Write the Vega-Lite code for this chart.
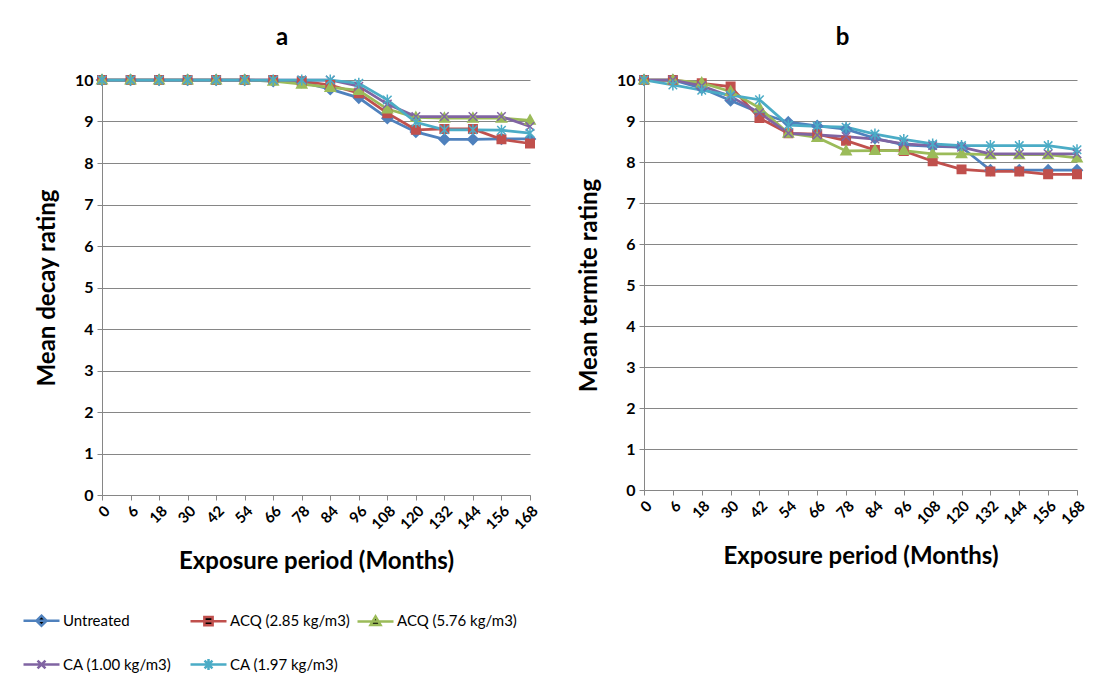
{
  "$schema": "https://vega.github.io/schema/vega-lite/v6.json",
  "background": "white",
  "padding": {"left": 22, "top": 26, "right": 0, "bottom": 0},
  "autosize": {"type": "pad"},
  "config": {
    "font": "Lato",
    "view": {"stroke": null},
    "axis": {"labelColor": "#000", "titleColor": "#000", "domainColor": "#868686", "tickColor": "#868686", "gridColor": "#868686", "tickSize": 5, "labelFontWeight": "bold", "titleFontWeight": "bold", "titleFontSize": 24, "labelFontSize": 16},
    "legend": {"title": null, "orient": "none", "legendX": -80, "legendY": 521, "columns": 3, "direction": "horizontal", "gridAlign": "all", "columnPadding": 2, "rowPadding": 14, "padding": 0, "labelFontSize": 15, "labelColor": "#000", "labelOffset": 2, "symbolSize": 1296, "symbolStrokeWidth": 2.5, "symbolOpacity": 1},
    "title": {"fontSize": 24, "fontWeight": "bold", "color": "#000"}
  },
  "datasets": {
    "d": [
      {"p":"a","s":"Untreated","m":0,"v":10},{"p":"a","s":"Untreated","m":6,"v":10},{"p":"a","s":"Untreated","m":18,"v":10},{"p":"a","s":"Untreated","m":30,"v":10},{"p":"a","s":"Untreated","m":42,"v":10},{"p":"a","s":"Untreated","m":54,"v":10},{"p":"a","s":"Untreated","m":66,"v":9.97},{"p":"a","s":"Untreated","m":78,"v":9.95},{"p":"a","s":"Untreated","m":84,"v":9.78},{"p":"a","s":"Untreated","m":96,"v":9.57},{"p":"a","s":"Untreated","m":108,"v":9.08},{"p":"a","s":"Untreated","m":120,"v":8.75},{"p":"a","s":"Untreated","m":132,"v":8.57},{"p":"a","s":"Untreated","m":144,"v":8.57},{"p":"a","s":"Untreated","m":156,"v":8.58},{"p":"a","s":"Untreated","m":168,"v":8.58},
      {"p":"a","s":"ACQ (2.85 kg/m3)","m":0,"v":10},{"p":"a","s":"ACQ (2.85 kg/m3)","m":6,"v":10},{"p":"a","s":"ACQ (2.85 kg/m3)","m":18,"v":10},{"p":"a","s":"ACQ (2.85 kg/m3)","m":30,"v":10},{"p":"a","s":"ACQ (2.85 kg/m3)","m":42,"v":10},{"p":"a","s":"ACQ (2.85 kg/m3)","m":54,"v":10},{"p":"a","s":"ACQ (2.85 kg/m3)","m":66,"v":10},{"p":"a","s":"ACQ (2.85 kg/m3)","m":78,"v":9.97},{"p":"a","s":"ACQ (2.85 kg/m3)","m":84,"v":9.88},{"p":"a","s":"ACQ (2.85 kg/m3)","m":96,"v":9.68},{"p":"a","s":"ACQ (2.85 kg/m3)","m":108,"v":9.2},{"p":"a","s":"ACQ (2.85 kg/m3)","m":120,"v":8.8},{"p":"a","s":"ACQ (2.85 kg/m3)","m":132,"v":8.82},{"p":"a","s":"ACQ (2.85 kg/m3)","m":144,"v":8.82},{"p":"a","s":"ACQ (2.85 kg/m3)","m":156,"v":8.57},{"p":"a","s":"ACQ (2.85 kg/m3)","m":168,"v":8.47},
      {"p":"a","s":"ACQ (5.76 kg/m3)","m":0,"v":10},{"p":"a","s":"ACQ (5.76 kg/m3)","m":6,"v":10},{"p":"a","s":"ACQ (5.76 kg/m3)","m":18,"v":10},{"p":"a","s":"ACQ (5.76 kg/m3)","m":30,"v":10},{"p":"a","s":"ACQ (5.76 kg/m3)","m":42,"v":10},{"p":"a","s":"ACQ (5.76 kg/m3)","m":54,"v":10},{"p":"a","s":"ACQ (5.76 kg/m3)","m":66,"v":9.97},{"p":"a","s":"ACQ (5.76 kg/m3)","m":78,"v":9.9},{"p":"a","s":"ACQ (5.76 kg/m3)","m":84,"v":9.82},{"p":"a","s":"ACQ (5.76 kg/m3)","m":96,"v":9.75},{"p":"a","s":"ACQ (5.76 kg/m3)","m":108,"v":9.3},{"p":"a","s":"ACQ (5.76 kg/m3)","m":120,"v":9.1},{"p":"a","s":"ACQ (5.76 kg/m3)","m":132,"v":9.08},{"p":"a","s":"ACQ (5.76 kg/m3)","m":144,"v":9.08},{"p":"a","s":"ACQ (5.76 kg/m3)","m":156,"v":9.08},{"p":"a","s":"ACQ (5.76 kg/m3)","m":168,"v":9.03},
      {"p":"a","s":"CA (1.00 kg/m3)","m":0,"v":10},{"p":"a","s":"CA (1.00 kg/m3)","m":6,"v":10},{"p":"a","s":"CA (1.00 kg/m3)","m":18,"v":10},{"p":"a","s":"CA (1.00 kg/m3)","m":30,"v":10},{"p":"a","s":"CA (1.00 kg/m3)","m":42,"v":10},{"p":"a","s":"CA (1.00 kg/m3)","m":54,"v":10},{"p":"a","s":"CA (1.00 kg/m3)","m":66,"v":10},{"p":"a","s":"CA (1.00 kg/m3)","m":78,"v":10},{"p":"a","s":"CA (1.00 kg/m3)","m":84,"v":10},{"p":"a","s":"CA (1.00 kg/m3)","m":96,"v":9.85},{"p":"a","s":"CA (1.00 kg/m3)","m":108,"v":9.42},{"p":"a","s":"CA (1.00 kg/m3)","m":120,"v":9.12},{"p":"a","s":"CA (1.00 kg/m3)","m":132,"v":9.12},{"p":"a","s":"CA (1.00 kg/m3)","m":144,"v":9.12},{"p":"a","s":"CA (1.00 kg/m3)","m":156,"v":9.12},{"p":"a","s":"CA (1.00 kg/m3)","m":168,"v":8.88},
      {"p":"a","s":"CA (1.97 kg/m3)","m":0,"v":10},{"p":"a","s":"CA (1.97 kg/m3)","m":6,"v":10},{"p":"a","s":"CA (1.97 kg/m3)","m":18,"v":10},{"p":"a","s":"CA (1.97 kg/m3)","m":30,"v":10},{"p":"a","s":"CA (1.97 kg/m3)","m":42,"v":10},{"p":"a","s":"CA (1.97 kg/m3)","m":54,"v":10},{"p":"a","s":"CA (1.97 kg/m3)","m":66,"v":10},{"p":"a","s":"CA (1.97 kg/m3)","m":78,"v":10},{"p":"a","s":"CA (1.97 kg/m3)","m":84,"v":10},{"p":"a","s":"CA (1.97 kg/m3)","m":96,"v":9.92},{"p":"a","s":"CA (1.97 kg/m3)","m":108,"v":9.52},{"p":"a","s":"CA (1.97 kg/m3)","m":120,"v":8.98},{"p":"a","s":"CA (1.97 kg/m3)","m":132,"v":8.8},{"p":"a","s":"CA (1.97 kg/m3)","m":144,"v":8.8},{"p":"a","s":"CA (1.97 kg/m3)","m":156,"v":8.79},{"p":"a","s":"CA (1.97 kg/m3)","m":168,"v":8.72},
      {"p":"b","s":"Untreated","m":0,"v":10},{"p":"b","s":"Untreated","m":6,"v":10},{"p":"b","s":"Untreated","m":18,"v":9.8},{"p":"b","s":"Untreated","m":30,"v":9.5},{"p":"b","s":"Untreated","m":42,"v":9.2},{"p":"b","s":"Untreated","m":54,"v":8.97},{"p":"b","s":"Untreated","m":66,"v":8.88},{"p":"b","s":"Untreated","m":78,"v":8.8},{"p":"b","s":"Untreated","m":84,"v":8.58},{"p":"b","s":"Untreated","m":96,"v":8.42},{"p":"b","s":"Untreated","m":108,"v":8.38},{"p":"b","s":"Untreated","m":120,"v":8.36},{"p":"b","s":"Untreated","m":132,"v":7.8},{"p":"b","s":"Untreated","m":144,"v":7.8},{"p":"b","s":"Untreated","m":156,"v":7.8},{"p":"b","s":"Untreated","m":168,"v":7.8},
      {"p":"b","s":"ACQ (2.85 kg/m3)","m":0,"v":10},{"p":"b","s":"ACQ (2.85 kg/m3)","m":6,"v":10},{"p":"b","s":"ACQ (2.85 kg/m3)","m":18,"v":9.92},{"p":"b","s":"ACQ (2.85 kg/m3)","m":30,"v":9.84},{"p":"b","s":"ACQ (2.85 kg/m3)","m":42,"v":9.07},{"p":"b","s":"ACQ (2.85 kg/m3)","m":54,"v":8.7},{"p":"b","s":"ACQ (2.85 kg/m3)","m":66,"v":8.68},{"p":"b","s":"ACQ (2.85 kg/m3)","m":78,"v":8.52},{"p":"b","s":"ACQ (2.85 kg/m3)","m":84,"v":8.29},{"p":"b","s":"ACQ (2.85 kg/m3)","m":96,"v":8.27},{"p":"b","s":"ACQ (2.85 kg/m3)","m":108,"v":8.02},{"p":"b","s":"ACQ (2.85 kg/m3)","m":120,"v":7.82},{"p":"b","s":"ACQ (2.85 kg/m3)","m":132,"v":7.77},{"p":"b","s":"ACQ (2.85 kg/m3)","m":144,"v":7.77},{"p":"b","s":"ACQ (2.85 kg/m3)","m":156,"v":7.7},{"p":"b","s":"ACQ (2.85 kg/m3)","m":168,"v":7.7},
      {"p":"b","s":"ACQ (5.76 kg/m3)","m":0,"v":10},{"p":"b","s":"ACQ (5.76 kg/m3)","m":6,"v":10},{"p":"b","s":"ACQ (5.76 kg/m3)","m":18,"v":9.93},{"p":"b","s":"ACQ (5.76 kg/m3)","m":30,"v":9.72},{"p":"b","s":"ACQ (5.76 kg/m3)","m":42,"v":9.32},{"p":"b","s":"ACQ (5.76 kg/m3)","m":54,"v":8.7},{"p":"b","s":"ACQ (5.76 kg/m3)","m":66,"v":8.6},{"p":"b","s":"ACQ (5.76 kg/m3)","m":78,"v":8.27},{"p":"b","s":"ACQ (5.76 kg/m3)","m":84,"v":8.28},{"p":"b","s":"ACQ (5.76 kg/m3)","m":96,"v":8.28},{"p":"b","s":"ACQ (5.76 kg/m3)","m":108,"v":8.2},{"p":"b","s":"ACQ (5.76 kg/m3)","m":120,"v":8.2},{"p":"b","s":"ACQ (5.76 kg/m3)","m":132,"v":8.18},{"p":"b","s":"ACQ (5.76 kg/m3)","m":144,"v":8.18},{"p":"b","s":"ACQ (5.76 kg/m3)","m":156,"v":8.18},{"p":"b","s":"ACQ (5.76 kg/m3)","m":168,"v":8.1},
      {"p":"b","s":"CA (1.00 kg/m3)","m":0,"v":10},{"p":"b","s":"CA (1.00 kg/m3)","m":6,"v":10},{"p":"b","s":"CA (1.00 kg/m3)","m":18,"v":9.86},{"p":"b","s":"CA (1.00 kg/m3)","m":30,"v":9.6},{"p":"b","s":"CA (1.00 kg/m3)","m":42,"v":9.2},{"p":"b","s":"CA (1.00 kg/m3)","m":54,"v":8.7},{"p":"b","s":"CA (1.00 kg/m3)","m":66,"v":8.66},{"p":"b","s":"CA (1.00 kg/m3)","m":78,"v":8.62},{"p":"b","s":"CA (1.00 kg/m3)","m":84,"v":8.56},{"p":"b","s":"CA (1.00 kg/m3)","m":96,"v":8.44},{"p":"b","s":"CA (1.00 kg/m3)","m":108,"v":8.4},{"p":"b","s":"CA (1.00 kg/m3)","m":120,"v":8.36},{"p":"b","s":"CA (1.00 kg/m3)","m":132,"v":8.2},{"p":"b","s":"CA (1.00 kg/m3)","m":144,"v":8.2},{"p":"b","s":"CA (1.00 kg/m3)","m":156,"v":8.2},{"p":"b","s":"CA (1.00 kg/m3)","m":168,"v":8.2},
      {"p":"b","s":"CA (1.97 kg/m3)","m":0,"v":10},{"p":"b","s":"CA (1.97 kg/m3)","m":6,"v":9.88},{"p":"b","s":"CA (1.97 kg/m3)","m":18,"v":9.75},{"p":"b","s":"CA (1.97 kg/m3)","m":30,"v":9.63},{"p":"b","s":"CA (1.97 kg/m3)","m":42,"v":9.52},{"p":"b","s":"CA (1.97 kg/m3)","m":54,"v":8.9},{"p":"b","s":"CA (1.97 kg/m3)","m":66,"v":8.87},{"p":"b","s":"CA (1.97 kg/m3)","m":78,"v":8.85},{"p":"b","s":"CA (1.97 kg/m3)","m":84,"v":8.68},{"p":"b","s":"CA (1.97 kg/m3)","m":96,"v":8.55},{"p":"b","s":"CA (1.97 kg/m3)","m":108,"v":8.44},{"p":"b","s":"CA (1.97 kg/m3)","m":120,"v":8.4},{"p":"b","s":"CA (1.97 kg/m3)","m":132,"v":8.4},{"p":"b","s":"CA (1.97 kg/m3)","m":144,"v":8.4},{"p":"b","s":"CA (1.97 kg/m3)","m":156,"v":8.4},{"p":"b","s":"CA (1.97 kg/m3)","m":168,"v":8.3}
    ]
  },
  "data": {"name": "d"},
  "spacing": 36,
  "resolve": {"scale": {"color": "independent", "shape": "independent", "stroke": "independent", "fill": "independent"}, "legend": {"color": "independent", "shape": "independent", "stroke": "independent", "fill": "independent"}},
  "hconcat": [
    {
      "width": 428,
      "height": 415,
      "title": {"text": "a", "offset": 21, "dx": -34},
      "transform": [{"filter": "datum.p === 'a'"}],
      "encoding": {
        "x": {"field": "m", "type": "ordinal", "scale": {"type": "point", "padding": 0}, "title": "Exposure period (Months)", "axis": {"labelAngle": -45, "labelFontSize": 15, "labelPadding": 3, "titlePadding": 17, "grid": false}},
        "y": {"field": "v", "type": "quantitative", "scale": {"domain": [0, 10], "nice": false}, "title": "Mean decay rating", "axis": {"values": [0,1,2,3,4,5,6,7,8,9,10], "grid": true, "labelPadding": 4, "titlePadding": 15}}
      },
      "resolve": {"scale": {"shape": "independent", "stroke": "independent"}, "legend": {"shape": "independent", "stroke": "independent"}},
      "layer": [
        {
          "mark": {"type": "line", "strokeWidth": 2.75},
          "encoding": {
            "color": {"field": "s", "type": "nominal", "legend": null, "scale": {"domain": ["Untreated", "ACQ (2.85 kg/m3)", "ACQ (5.76 kg/m3)", "CA (1.00 kg/m3)", "CA (1.97 kg/m3)"], "range": ["#4F81BD", "#C0504D", "#9BBB59", "#8064A2", "#4BACC6"]}}
          }
        },
        {
          "mark": {"type": "point", "filled": true, "size": 72, "opacity": 1, "strokeWidth": 1.5},
          "encoding": {
            "color": {"field": "s", "type": "nominal", "legend": null, "scale": {"domain": ["Untreated", "ACQ (2.85 kg/m3)", "ACQ (5.76 kg/m3)", "CA (1.00 kg/m3)", "CA (1.97 kg/m3)"], "range": ["#4F81BD", "#C0504D", "#9BBB59", "#8064A2", "#4BACC6"]}},
            "shape": {"field": "s", "type": "nominal", "legend": null, "scale": {"domain": ["Untreated", "ACQ (2.85 kg/m3)", "ACQ (5.76 kg/m3)", "CA (1.00 kg/m3)", "CA (1.97 kg/m3)"], "range": ["M0,-1.25L1.25,0L0,1.25L-1.25,0Z", "M-1,-1H1V1H-1Z", "M0,-1.25L1.2,0.9L-1.2,0.9Z", "M-1,-1L1,1M-1,1L1,-1", "M-1,-1L1,1M-1,1L1,-1M0,-1.3V1.3"]}},
            "stroke": {"field": "s", "type": "nominal", "legend": null, "scale": {"domain": ["Untreated", "ACQ (2.85 kg/m3)", "ACQ (5.76 kg/m3)", "CA (1.00 kg/m3)", "CA (1.97 kg/m3)"], "range": ["#4F81BD", "#C0504D", "#9BBB59", "#8064A2", "#4BACC6"]}}
          }
        },
        {
          "mark": {"type": "point", "filled": true, "opacity": 0},
          "encoding": {
            "fill": {"field": "s", "type": "nominal", "scale": {"domain": ["Untreated", "ACQ (2.85 kg/m3)", "ACQ (5.76 kg/m3)", "CA (1.00 kg/m3)", "CA (1.97 kg/m3)"], "range": ["#4F81BD", "#C0504D", "#9BBB59", "#8064A2", "#4BACC6"]}},
            "stroke": {"field": "s", "type": "nominal", "scale": {"domain": ["Untreated", "ACQ (2.85 kg/m3)", "ACQ (5.76 kg/m3)", "CA (1.00 kg/m3)", "CA (1.97 kg/m3)"], "range": ["#4F81BD", "#C0504D", "#9BBB59", "#8064A2", "#4BACC6"]}},
            "shape": {"field": "s", "type": "nominal", "scale": {"domain": ["Untreated", "ACQ (2.85 kg/m3)", "ACQ (5.76 kg/m3)", "CA (1.00 kg/m3)", "CA (1.97 kg/m3)"], "range": ["M-1,0H1M0,-0.28L0.28,0L0,0.28L-0.28,0Z", "M-1,0H1M-0.23,-0.23H0.23V0.23H-0.23Z", "M-1,0H1M0,-0.28L0.28,0.2L-0.28,0.2Z", "M-1,0H1M-0.22,-0.22L0.22,0.22M-0.22,0.22L0.22,-0.22", "M-1,0H1M-0.22,-0.22L0.22,0.22M-0.22,0.22L0.22,-0.22M0,-0.3V0.3"]}}
          }
        }
      ]
    },
    {
      "width": 433,
      "height": 410,
      "title": {"text": "b", "offset": 21, "dx": -18},
      "transform": [{"filter": "datum.p === 'b'"}],
      "encoding": {
        "x": {"field": "m", "type": "ordinal", "scale": {"type": "point", "padding": 0}, "title": "Exposure period (Months)", "axis": {"labelAngle": -45, "labelFontSize": 15, "labelPadding": 3, "titlePadding": 17, "grid": false}},
        "y": {"field": "v", "type": "quantitative", "scale": {"domain": [0, 10], "nice": false}, "title": "Mean termite rating", "axis": {"values": [0,1,2,3,4,5,6,7,8,9,10], "grid": true, "labelPadding": 4, "titlePadding": 15}},
        "color": {
          "field": "s", "type": "nominal", "legend": null,
          "scale": {"domain": ["Untreated", "ACQ (2.85 kg/m3)", "ACQ (5.76 kg/m3)", "CA (1.00 kg/m3)", "CA (1.97 kg/m3)"], "range": ["#4F81BD", "#C0504D", "#9BBB59", "#8064A2", "#4BACC6"]}
        }
      },
      "layer": [
        {"mark": {"type": "line", "strokeWidth": 2.75}},
        {
          "mark": {"type": "point", "filled": true, "size": 72, "opacity": 1, "strokeWidth": 1.5},
          "encoding": {
            "shape": {"field": "s", "type": "nominal", "legend": null, "scale": {"domain": ["Untreated", "ACQ (2.85 kg/m3)", "ACQ (5.76 kg/m3)", "CA (1.00 kg/m3)", "CA (1.97 kg/m3)"], "range": ["M0,-1.25L1.25,0L0,1.25L-1.25,0Z", "M-1,-1H1V1H-1Z", "M0,-1.25L1.2,0.9L-1.2,0.9Z", "M-1,-1L1,1M-1,1L1,-1", "M-1,-1L1,1M-1,1L1,-1M0,-1.3V1.3"]}},
            "stroke": {"field": "s", "type": "nominal", "legend": null, "scale": {"domain": ["Untreated", "ACQ (2.85 kg/m3)", "ACQ (5.76 kg/m3)", "CA (1.00 kg/m3)", "CA (1.97 kg/m3)"], "range": ["#4F81BD", "#C0504D", "#9BBB59", "#8064A2", "#4BACC6"]}}
          }
        }
      ]
    }
  ]
}
